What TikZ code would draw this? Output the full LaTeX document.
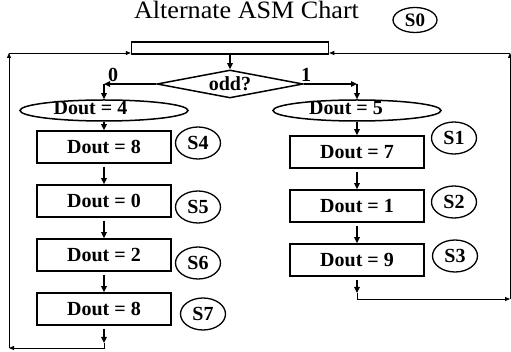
\documentclass[tikz,border=0pt]{standalone}
\usepackage{fontspec}
\setmainfont{Liberation Serif}
\usetikzlibrary{shapes.geometric,arrows.meta}
\begin{document}
\begin{tikzpicture}[x=1pt,y=-1pt,
  bfont/.style={font=\fontsize{20}{20}\selectfont\bfseries},
  box/.style={draw,line width=1.5pt,minimum width=134pt,minimum height=32pt,inner sep=0pt,bfont},
  sbub/.style={draw,ellipse,line width=1.3pt,minimum width=45pt,minimum height=32pt,inner sep=0pt,font=\fontsize{20}{20}\selectfont\bfseries},
  oval/.style={draw,ellipse,line width=1.5pt,minimum width=168pt,minimum height=21pt,inner sep=0pt},
  arr/.style={-{Triangle[length=6pt,width=5.5pt]},line width=1.3pt},
  loopln/.style={-{Triangle[length=5pt,width=4pt]},line width=0.8pt},
]
\useasboundingbox (0,0) rectangle (511,352);

% title and state S0
\node[anchor=base,inner sep=0pt,font=\fontsize{25}{25}\selectfont] (title) at (246.5,18.5) {\scalebox{1.045}[1]{Alternate ASM Chart}};
\node[sbub,minimum width=44pt,minimum height=25pt,font=\fontsize{19}{19}\selectfont\bfseries] (S0) at (415,20) {S0};

% top state box and decision
\node[draw,line width=1.5pt,minimum width=197pt,minimum height=12pt,inner sep=0pt] (R0) at (230,48) {};
\node[draw,diamond,shape aspect=5.2,line width=1.5pt,minimum width=146pt,minimum height=28pt,inner sep=0pt,bfont] (D) at (230,84) {odd?};

% conditional outputs
\node[oval] (E4) at (104,110.5) {};
\node[anchor=base,bfont] (E4t) at (90.5,114.5) {Dout = 4};
\node[oval] (E5) at (357,110.5) {};
\node[anchor=base,bfont] (E5t) at (346,114.5) {Dout = 5};

% branch labels
\node[anchor=base,bfont,inner sep=0pt] (l0) at (113,82) {0};
\node[anchor=base,bfont,inner sep=0pt] (l1) at (306,82) {1};

% left column
\node[box] (B4) at (104,147) {Dout = 8};
\node[box] (B5) at (104,201) {Dout = 0};
\node[box] (B6) at (104,255) {Dout = 2};
\node[box] (B7) at (104,309) {Dout = 8};
\node[sbub] (S4) at (198,143) {S4};
\node[sbub] (S5) at (198,207) {S5};
\node[sbub] (S6) at (198,263) {S6};
\node[sbub] (S7) at (203,314) {S7};

% right column
\node[box] (B1) at (357,152) {Dout = 7};
\node[box] (B2) at (357,206) {Dout = 1};
\node[box] (B3) at (357,260) {Dout = 9};
\node[sbub] (S1) at (454,138) {S1};
\node[sbub] (S2) at (454,202) {S2};
\node[sbub] (S3) at (455,256) {S3};

% coordinates
\coordinate (cL0) at (104,84);
\coordinate (cR0) at (357,84);
\coordinate (cL1) at (104,343);
\coordinate (cL2) at (9,348);
\coordinate (cL3) at (9,53);
\coordinate (cR1) at (357,293);
\coordinate (cR2) at (510,299);
\coordinate (cR3) at (510,53);

% connectors
\draw[arr] (R0.south) -- (D.north);
\draw[arr] (D.west) -- (cL0);
\draw[arr] (cL0) -- (cL0 |- E4.north);
\draw[arr] (D.east) -- (cR0);
\draw[arr] (cR0) -- (cR0 |- E5.north);

\draw[arr] (E4.south) -- (B4.north);
\draw[arr,shorten <=3pt] (B4.south) -- (B5.north);
\draw[arr,shorten <=3pt] (B5.south) -- (B6.north);
\draw[arr,shorten <=3pt] (B6.south) -- (B7.north);
\draw[arr,shorten <=3pt] (B7.south) -- (cL1);
\draw[loopln] (cL1) |- (cL2);
\draw[loopln] (cL2) -- (cL3);
\draw[loopln] (cL3) -- (cL3 -| R0.west);

\draw[arr] (E5.south) -- (B1.north);
\draw[arr,shorten <=3pt] (B1.south) -- (B2.north);
\draw[arr,shorten <=3pt] (B2.south) -- (B3.north);
\draw[arr,shorten <=3pt] (B3.south) -- (cR1);
\draw[loopln] (cR1) |- (cR2);
\draw[loopln] (cR2) -- (cR3);
\draw[loopln] (cR3) -- (cR3 -| R0.east);
\end{tikzpicture}
\end{document}
